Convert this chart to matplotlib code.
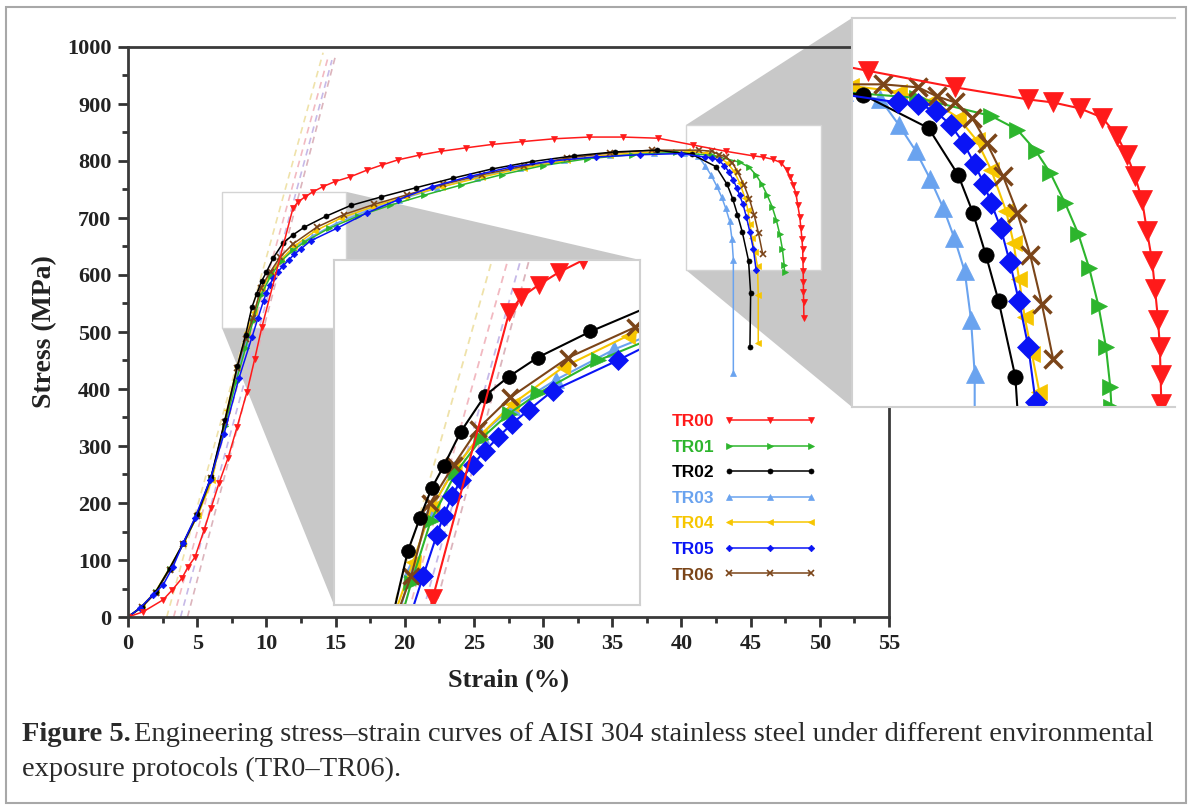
import numpy as np
import matplotlib.pyplot as plt
from matplotlib.patches import Polygon, Rectangle

plt.rcParams['font.family'] = 'Liberation Serif'

# values: strain (%), stress (MPa)
tr00_strain = [0, 1.08, 2.53, 3.18, 3.90, 4.34, 4.84, 5.49, 6.00, 6.58, 7.23, 7.88, 8.60, 9.15, 9.68,
               11.92, 12.28, 12.79, 13.37, 14.09, 14.96, 16.04, 17.27, 18.35, 19.51, 21.0, 22.6, 24.4,
               26.3, 28.5, 30.8, 33.3, 35.8, 38.3, 40.86, 43.22, 45.19, 45.87, 46.6, 47.2, 47.6, 47.87,
               48.09, 48.28, 48.41, 48.55, 48.63, 48.71, 48.76, 48.78, 48.80, 48.81, 48.82, 48.83, 48.85]
tr00_stress = [0, 9, 30, 47, 68, 88, 105, 152, 191, 235, 279, 333, 395, 452, 509,
               717, 728, 737, 746, 755, 764, 772, 784, 793, 802, 810, 817, 823,
               829, 834, 839, 842, 842, 840, 828, 817, 809, 807, 803, 797, 785, 772,
               758, 742, 722, 702, 683, 663, 645, 626, 607, 588, 570, 553, 525]

tr01_strain = [0, 1.0, 2.0, 3.0, 4.0, 5.0, 6.0, 7.0, 7.8, 8.5, 9.05, 9.62, 10.35, 11.1, 11.9, 12.77,
               14.53, 16.6, 18.9, 21.4, 24.1, 27.0, 30.0, 33.2, 36.4, 39.6, 42.2, 44.2, 44.9, 45.4,
               45.8, 46.2, 46.55, 46.85, 47.1, 47.3, 47.42, 47.45]
tr01_stress = [0, 18, 44, 84, 128, 178, 242, 335, 412, 472, 520, 565, 600, 625, 643, 658,
               682, 703, 722, 740, 758, 776, 792, 804, 811, 815, 810, 798, 789, 775,
               760, 740, 720, 697, 672, 645, 618, 605]

tr02_strain = [0, 1.0, 2.0, 3.0, 4.0, 5.0, 6.0, 7.0, 7.9, 8.5, 8.95, 9.3, 9.65, 10.0, 10.5, 11.2,
               11.9, 12.75, 14.3, 16.1, 18.3, 20.8, 23.5, 26.3, 29.2, 32.2, 35.2, 38.2, 40.73,
               42.5, 43.3, 43.7, 44.05, 44.4, 44.85, 45.0, 44.95]
tr02_stress = [0, 18, 44, 85, 130, 180, 245, 345, 440, 495, 543, 567, 589, 605, 630, 656,
               670, 684, 703, 722, 737, 753, 770, 786, 799, 809, 816, 819, 812,
               790, 759, 734, 706, 675, 625, 568, 474]

tr03_strain = [0, 1.0, 2.0, 3.0, 4.0, 5.0, 6.0, 7.0, 7.8, 8.5, 9.05, 9.6, 10.3, 11.1, 12.0, 13.3,
               15.0, 17.2, 19.6, 22.3, 25.2, 28.3, 31.5, 34.8, 38.0, 40.2, 41.2, 41.7, 42.15,
               42.55, 42.9, 43.2, 43.48, 43.65, 43.75, 43.75]
tr03_stress = [0, 18, 44, 85, 130, 180, 246, 340, 418, 480, 530, 572, 603, 628, 648, 668,
               690, 712, 732, 752, 771, 788, 801, 810, 814, 814, 809, 792, 775,
               756, 737, 717, 695, 663, 627, 428]

tr04_strain = [0, 1.0, 2.0, 3.0, 4.0, 5.06, 6.07, 7.15, 7.88, 8.6, 9.1, 9.65, 10.3, 11.05, 12.0,
               13.5, 15.4, 17.6, 20.0, 22.7, 25.6, 28.6, 31.7, 34.8, 37.9, 40.4, 41.7, 42.6, 43.3,
               43.8, 44.2, 44.6, 44.8, 44.95, 45.1, 45.3, 45.5, 45.55, 45.55]
tr04_stress = [0, 19, 45, 86, 130, 179, 240, 363, 439, 500, 535, 575, 602, 627, 650,
               677, 700, 719, 737, 755, 772, 788, 801, 811, 816, 818, 814, 808, 797,
               782, 762, 735, 714, 690, 665, 640, 615, 565, 481]

tr05_strain = [0, 0.87, 1.81, 2.53, 3.25, 3.97, 4.84, 5.92, 6.94, 8.02, 8.96, 9.4, 9.8, 10.0, 10.25,
               10.5, 10.85, 11.2, 11.6, 12.0, 12.5, 13.2, 15.1, 17.27, 19.51, 22.0, 24.7, 27.6,
               30.6, 33.8, 37.0, 40.0, 41.67, 42.22, 42.7, 43.1, 43.45, 43.75, 44.0, 44.2, 44.45,
               44.7, 44.95, 45.2, 45.4]
tr05_stress = [0, 16, 39, 56, 88, 129, 174, 240, 321, 419, 491, 525, 555, 569, 583,
               595, 606, 616, 626, 636, 646, 660, 682, 709, 732, 755, 773, 789,
               800, 807, 811, 813, 807, 806, 801, 792, 780, 766, 753, 740, 724,
               701, 675, 645, 608]

tr06_strain = [0, 1.0, 2.0, 3.0, 4.0, 5.0, 6.0, 7.0, 7.9, 8.5, 9.05, 9.6, 10.3, 11.0, 11.95, 13.65,
               15.6, 17.8, 20.2, 22.8, 25.6, 28.6, 31.7, 34.8, 37.9, 41.27, 42.22, 42.73, 43.22,
               43.68, 44.08, 44.52, 44.9, 45.25, 45.57, 45.87]
tr06_stress = [0, 17, 42, 83, 128, 178, 243, 342, 437, 488, 525, 578, 606, 632, 655, 684,
               706, 724, 741, 759, 776, 791, 805, 814, 819, 819, 817, 811, 807,
               797, 780, 758, 734, 706, 673, 637]

labels = ['TR00', 'TR01', 'TR02', 'TR03', 'TR04', 'TR05', 'TR06']
strains = [tr00_strain, tr01_strain, tr02_strain, tr03_strain, tr04_strain, tr05_strain, tr06_strain]
stresses = [tr00_stress, tr01_stress, tr02_stress, tr03_stress, tr04_stress, tr05_stress, tr06_stress]
colors = ['#ff1a1a', '#2db52d', '#000000', '#6aa3ef', '#f7c600', '#0a14f5', '#7b4519']
markers = ['v', '>', 'o', '^', '<', 'D', 'x']
draw_order = [3, 4, 1, 6, 2, 5, 0]

# faint dashed offset lines (strain at 0 MPa, end point)
offset_start = [2.8, 3.3, 3.8, 4.3]
offset_end_strain = [14.1, 14.45, 14.74, 14.96]
offset_end_stress = [990, 981, 977, 981]
offset_colors = ['#efe2aa', '#f2b9c1', '#c6b9e8', '#dcb4bc']

W, H = 1189, 805
def fx(px):
    return px / W
def fy(py):
    return 1 - py / H

ms_main = {'v': 4.5, '>': 4, 'o': 3.6, '^': 4.5, '<': 4, 'D': 3.3, 'x': 4}
ms_zoom = {'v': 14, '>': 12, 'o': 11, '^': 13, '<': 12, 'D': 11, 'x': 13}

fig = plt.figure(figsize=(W / 100, H / 100), dpi=100)

# grey "zoom" wedges behind everything
gray = '#c8c8c8'
fig.add_artist(Polygon([(fx(222), fy(192)), (fx(347), fy(192)), (fx(640), fy(260)),
                        (fx(640), fy(605)), (fx(334), fy(605)), (fx(222), fy(328))],
                       closed=True, transform=fig.transFigure, facecolor=gray,
                       edgecolor='none', zorder=-1))
fig.add_artist(Polygon([(fx(686), fy(125)), (fx(852), fy(18)), (fx(852), fy(407)), (fx(686), fy(270))],
                       closed=True, transform=fig.transFigure, facecolor=gray,
                       edgecolor='none', zorder=-1))

ax = fig.add_axes([fx(128), fy(617), (889 - 128) / W, (617 - 47) / H])
ax.set_facecolor('none')

ax.add_patch(Rectangle((6.79, 507), 8.96, 238, facecolor='white', edgecolor='#d4d4d4', lw=1, zorder=0.5))
ax.add_patch(Rectangle((40.3, 609), 9.8, 254, facecolor='white', edgecolor='#d4d4d4', lw=1, zorder=0.5))


def draw_offsets(a, lw):
    for x0, x1, y1, c in zip(offset_start, offset_end_strain, offset_end_stress, offset_colors):
        a.plot([x0, x1], [0, y1], color=c, lw=lw, ls=(0, (4, 3)), zorder=1)


draw_offsets(ax, 1.2)

handles = {}
for i in draw_order:
    m = markers[i]
    ln, = ax.plot(strains[i], stresses[i], color=colors[i], lw=1.1, marker=m, ms=ms_main[m],
                  mew=1.2 if m == 'x' else 0.5, label=labels[i])
    handles[i] = ln

ax.set_xlim(0, 55)
ax.set_ylim(0, 1000)
ax.set_xticks(np.arange(0, 56, 5))
ax.set_xticks(np.arange(2.5, 55, 5), minor=True)
ax.set_yticks(np.arange(0, 1001, 100))
ax.set_yticks(np.arange(50, 1000, 100), minor=True)
ax.tick_params(which='major', direction='out', length=7, width=2, labelsize=16, pad=5,
               colors='#333333', labelcolor='#222222')
ax.tick_params(which='minor', direction='out', length=4, width=2, colors='#333333')
for lab in ax.get_xticklabels() + ax.get_yticklabels():
    lab.set_fontweight('bold')
for sp in ax.spines.values():
    sp.set_linewidth(2)
    sp.set_color('#3a3a3a')

fig.text(fx(508), fy(680), 'Strain (%)', ha='center', va='center', fontsize=19,
         fontweight='bold', color='#222222')
fig.text(fx(45), fy(332), 'Stress (MPa)', ha='center', va='center', rotation=90, fontsize=20,
         fontweight='bold', color='#222222')

leg = ax.legend([handles[i] for i in range(7)], labels, loc='upper left',
                bbox_to_anchor=(fx(672), fy(414)), bbox_transform=fig.transFigure,
                frameon=False, markerfirst=False, numpoints=3, handlelength=5.3,
                handletextpad=0.55, labelspacing=0.6, borderpad=0, borderaxespad=0,
                prop=dict(family='Liberation Sans', weight='bold', size=12.5),
                labelcolor='linecolor')

# zoomed insets
axL = fig.add_axes([fx(334), fy(605), (640 - 334) / W, (605 - 260) / H])
axL.set_xlim(6.79, 15.75)
axL.set_ylim(504, 755)
axR = fig.add_axes([fx(852), fy(407), (1175 - 852) / W, (407 - 18) / H])
axR.set_xlim(40.43, 49.17)
axR.set_ylim(605, 863)

for a, scale in [(axL, 0.9), (axR, 1.0)]:
    a.set_xticks([])
    a.set_yticks([])
    for sp in a.spines.values():
        sp.set_color('#d0d0d0')
        sp.set_linewidth(1.5)
    draw_offsets(a, 1.3)
    for i in draw_order:
        m = markers[i]
        a.plot(strains[i], stresses[i], color=colors[i], lw=1.5, marker=m,
               ms=ms_zoom[m] * scale, mew=2.5 if m == 'x' else 0.5)
axR.spines['right'].set_visible(False)

# caption
cap_size = 20.5
t1 = fig.text(fx(22), fy(741), 'Figure 5.', fontsize=cap_size, fontweight='bold', color='#2a2a2a',
              va='baseline')
ax.annotate('Engineering stress\u2013strain curves of AISI 304 stainless steel under different environmental',
            xy=(1, 0), xycoords=t1, xytext=(2, 0), textcoords='offset points',
            ha='left', va='bottom', fontsize=cap_size, color='#2a2a2a')
fig.text(fx(22), fy(776), 'exposure protocols (TR0\u2013TR06).', fontsize=cap_size, color='#2a2a2a',
         va='baseline')

fig.add_artist(Rectangle((fx(6), fy(803)), (1186 - 6) / W, (803 - 7) / H, transform=fig.transFigure,
                         fill=False, edgecolor='#a8a8a8', lw=1.5, zorder=10))

fig.savefig('out.png', dpi=100)
